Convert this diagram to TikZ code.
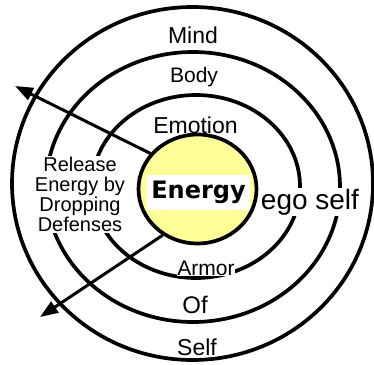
\documentclass[tikz,border=0pt]{standalone}
\usepackage{fontspec}
\setmainfont{Liberation Sans}
\newfontfamily\heavyfont{DejaVu Sans}
\usetikzlibrary{arrows.meta,shapes.geometric}
\definecolor{coreyellow}{RGB}{255,255,153}

\begin{document}
\begin{tikzpicture}[x=1pt,y=-1pt,>={Triangle[length=18pt,width=13pt]}]
  \tikzstyle{ring}=[line width=3.7pt]
  \tikzstyle{lbl}=[anchor=base,inner sep=1pt]
  \tikzstyle{masked}=[lbl,fill=white]
  \tikzstyle{release}=[->,line width=3pt]
  \useasboundingbox (0,0) rectangle (374,364);
  % rings, outside in
  \draw[ring] (192.5,183.5) ellipse [x radius=180.5pt,y radius=176.5pt];
  \draw[ring] (193,187) ellipse [x radius=147pt,y radius=135pt];
  \draw[ring] (196,186.5) ellipse [x radius=104pt,y radius=91.5pt];
  % core
  \node[ellipse,draw,line width=3.7pt,fill=coreyellow,inner sep=0pt,
        minimum width=118pt,minimum height=109pt] (core) at (197.5,189) {};
  \coordinate (outup) at (15,86);
  \coordinate (outdown) at (40,317);
  \draw[release] (core.143) -- (outup);
  \draw[release] (core.233) -- (outdown);
  % labels
  \node[lbl,font=\fontsize{23}{24}\selectfont] (mind) at (193,43) {Mind};
  \node[lbl,font=\fontsize{21}{22}\selectfont] (body) at (194,82.5) {Body};
  \node[lbl,font=\fontsize{23}{24}\selectfont] (emotion) at (195.5,133) {Emotion};
  \node[fill=white,inner sep=1pt,anchor=north,align=center,
        font=\fontsize{20}{20}\selectfont] (howto) at (80,156)
        {Release\\Energy by\\Dropping\\Defenses};
  \node[fill=white,inner sep=0pt,minimum width=103pt,minimum height=35pt,
        font=\heavyfont\bfseries\fontsize{24}{25}\selectfont] (energy) at (198.5,192.5) {Energy};
  \node[masked,font=\fontsize{28}{29}\selectfont] (ego) at (310,209) {ego self};
  \node[masked,inner sep=0.5pt,font=\fontsize{21}{22}\selectfont] (armor) at (206,275) {Armor};
  \node[masked,inner sep=0.5pt,font=\fontsize{24}{25}\selectfont] (of) at (195,313) {Of};
  \node[masked,inner sep=0.5pt,font=\fontsize{23}{24}\selectfont] (self) at (197,355) {Self};
\end{tikzpicture}
\end{document}
